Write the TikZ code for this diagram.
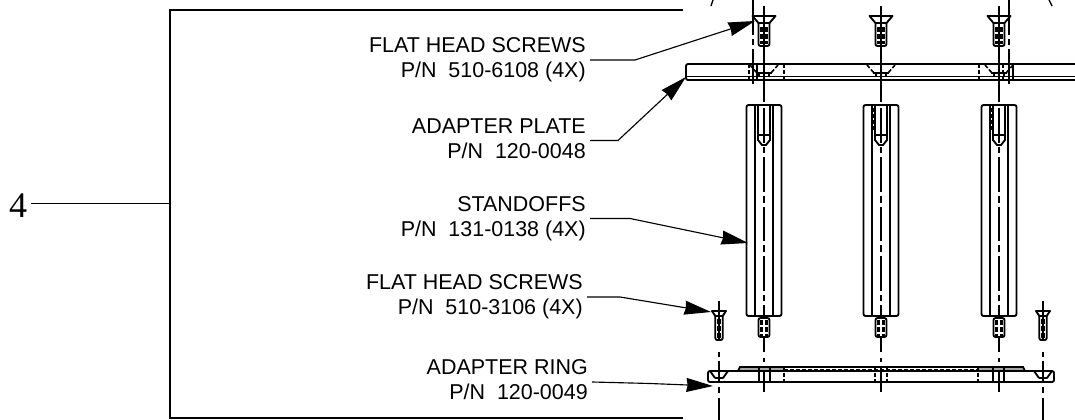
\documentclass[tikz,border=0pt]{standalone}
\usepackage{fontspec}
\setmainfont{Liberation Sans}
\newfontfamily\serifnum{Liberation Serif}
\usetikzlibrary{arrows.meta}
\begin{document}
\begin{tikzpicture}[x=.75pt,y=-.75pt,line cap=butt,
	part/.style={line width=1.4pt,black},
	hidden/.style={line width=1.2pt,dash pattern=on 3pt off 1.5pt},
	thread/.style={line width=1.8pt,dash pattern=on 4pt off 1.2pt},
	axis/.style={line width=1.2pt,dash pattern=on 26pt off 3pt on 5pt off 3pt},
	bracket/.style={line width=1.3pt},
	leader/.style={line width=.85pt,-{Stealth[length=20pt,width=10.5pt,inset=1pt]}},
	label/.style={anchor=east,align=right,inner sep=3pt,font=\fontsize{16.1pt}{18.9pt}\selectfont}]
	\useasboundingbox (0,0) rectangle (1075,420);
	\node[anchor=base,inner sep=3pt,font=\serifnum\fontsize{27pt}{30pt}\selectfont] (four) at (18,218) {4};
	\node[label] (flatplate) at (590,60) {FLAT HEAD SCREWS\\P/N~~510-6108 (4X)};
	\node[label] (plate) at (590,140.5) {ADAPTER PLATE\\P/N~~120-0048\vphantom{(}};
	\node[label] (standoff) at (590,218.5) {STANDOFFS\\P/N~~131-0138 (4X)};
	\node[label] (flatring) at (587,297) {FLAT HEAD SCREWS\\P/N~~510-3106 (4X)};
	\node[label] (ring) at (592,382) {ADAPTER RING\\P/N~~120-0049\vphantom{(}};
	\coordinate (bracketmid) at (170,203.5);
	\coordinate (flatplatetip) at (755,21);
	\coordinate (platetip) at (686,77);
	\coordinate (standofftip) at (748,243);
	\coordinate (flatringtip) at (711,312);
	\coordinate (ringtip) at (713,386);
	\draw[bracket] (683,10) -- (170,10) -- (170,418) -- (683,418);
	\draw[bracket] (four.east |- bracketmid) -- (bracketmid);
	\draw[leader] (flatplate.east) -- (635,60) -- (flatplatetip);
	\draw[leader] (plate.east) -- (618,140.5) -- (platetip);
	\draw[leader] (standoff.east) -- (630,218.5) -- (standofftip);
	\draw[leader] (flatring.east) -- (620,297) -- (flatringtip);
	\draw[leader] (ring.east) -- (650,383.5) -- (ringtip);
	\draw[line width=1pt] (713,0) -- (711,6) (1049,0) -- (1052,6);
	\foreach \cx in {753,1009}
		\draw[axis] (\cx,0) -- (\cx,84);
	\draw[part,rounded corners=1.5pt] (1075,64) -- (686,64) -- (686,80) -- (1075,80);
	\draw[part] (686,76.5) -- (1075,76.5);
	\draw[hidden] (749,64) -- (749,80) (784,64) -- (784,80) (979,64) -- (979,80) (1003,64) -- (1003,80);
	\draw[part] (757,64) -- (757,80) (1013,64) -- (1013,80);
	\foreach \cx in {764,881,999} {
		\draw[part,line join=round] (\cx-11.5,16) -- (\cx+11.5,16) -- (\cx+5.5,23) -- (\cx-5.5,23) -- cycle;
		\draw[part,rounded corners=1.5pt] (\cx-5.5,23) -- (\cx-5.5,46) -- (\cx+5.5,46) -- (\cx+5.5,23);
		\draw[thread] (\cx-2.5,27) -- (\cx-2.5,44) (\cx+2.5,27) -- (\cx+2.5,44);
		\draw[part] (\cx,6) -- (\cx,46) (\cx,46) -- (\cx,102);
		\draw[hidden] (\cx-14,65) -- (\cx-7,73) (\cx+14,65) -- (\cx+7,73);
		\draw[part] (\cx-8,73) -- (\cx+8,73) (\cx-5,73) -- (\cx-5,76) (\cx+5,73) -- (\cx+5,76);
		\draw[part,rounded corners=1.5pt] (\cx-17.5,316) -- (\cx-17.5,105) -- (\cx+17.5,105) -- (\cx+17.5,316) -- cycle;
		\draw[part] (\cx-9,105) -- (\cx-9,316) (\cx+9,105) -- (\cx+9,316);
		\draw[part] (\cx-6,105) -- (\cx-6,140) -- (\cx-2,145) -- (\cx+2,145) -- (\cx+6,140) -- (\cx+6,105) (\cx-6,135) -- (\cx+6,135);
		\draw[axis] (\cx,108) -- (\cx,316);
		\draw[part,rounded corners=1.5pt] (\cx-5.5,318) rectangle (\cx+5.5,337);
		\draw[part] (\cx-3,316) -- (\cx+3,316);
		\draw[thread] (\cx-2.5,320) -- (\cx-2.5,336) (\cx+2.5,320) -- (\cx+2.5,336);
		\draw[part] (\cx,337) -- (\cx,352) (\cx,358) -- (\cx,362) (\cx,367) -- (\cx,392);
	}
	\draw[hidden,line width=.8pt] (874,108) -- (874,132) (992,108) -- (992,132);
	\foreach \cx in {719,1043} {
		\draw[part,line join=round] (\cx-7,311) -- (\cx+7,311) -- (\cx+3.7,316) -- (\cx-3.7,316) -- cycle;
		\draw[part,rounded corners=1.5pt] (\cx-3.7,316) -- (\cx-3.7,340) -- (\cx+3.7,340) -- (\cx+3.7,316);
		\draw[thread,line width=1.2pt] (\cx-1.6,319) -- (\cx-1.6,338) (\cx+1.6,319) -- (\cx+1.6,338);
		\draw[part] (\cx,301) -- (\cx,340) (\cx,352) -- (\cx,357) (\cx,361) -- (\cx,381) (\cx,387) -- (\cx,393) (\cx,398) -- (\cx,420);
		\draw[part] (\cx-9,371) -- (\cx-4,378) (\cx+9,371) -- (\cx+4,378) (\cx-4,378) -- (\cx+4,378);
	}
	\fill[black!35] (740,367) rectangle (784,371) (978,367) rectangle (1023,371);
	\draw[part,rounded corners=1.5pt] (708,371) rectangle (1054,382);
	\draw[part] (738,371) -- (740,367) -- (1023,367) -- (1025,371);
	\draw[hidden,line width=.8pt] (784,369.5) -- (978,369.5);
	\draw[part] (759,367) -- (759,382) (770,367) -- (770,382) (993,367) -- (993,382) (1004,367) -- (1004,382);
	\draw[hidden] (784,367) -- (784,382) (875,367) -- (875,382) (887,367) -- (887,382) (978,367) -- (978,382);
\end{tikzpicture}
\end{document}
